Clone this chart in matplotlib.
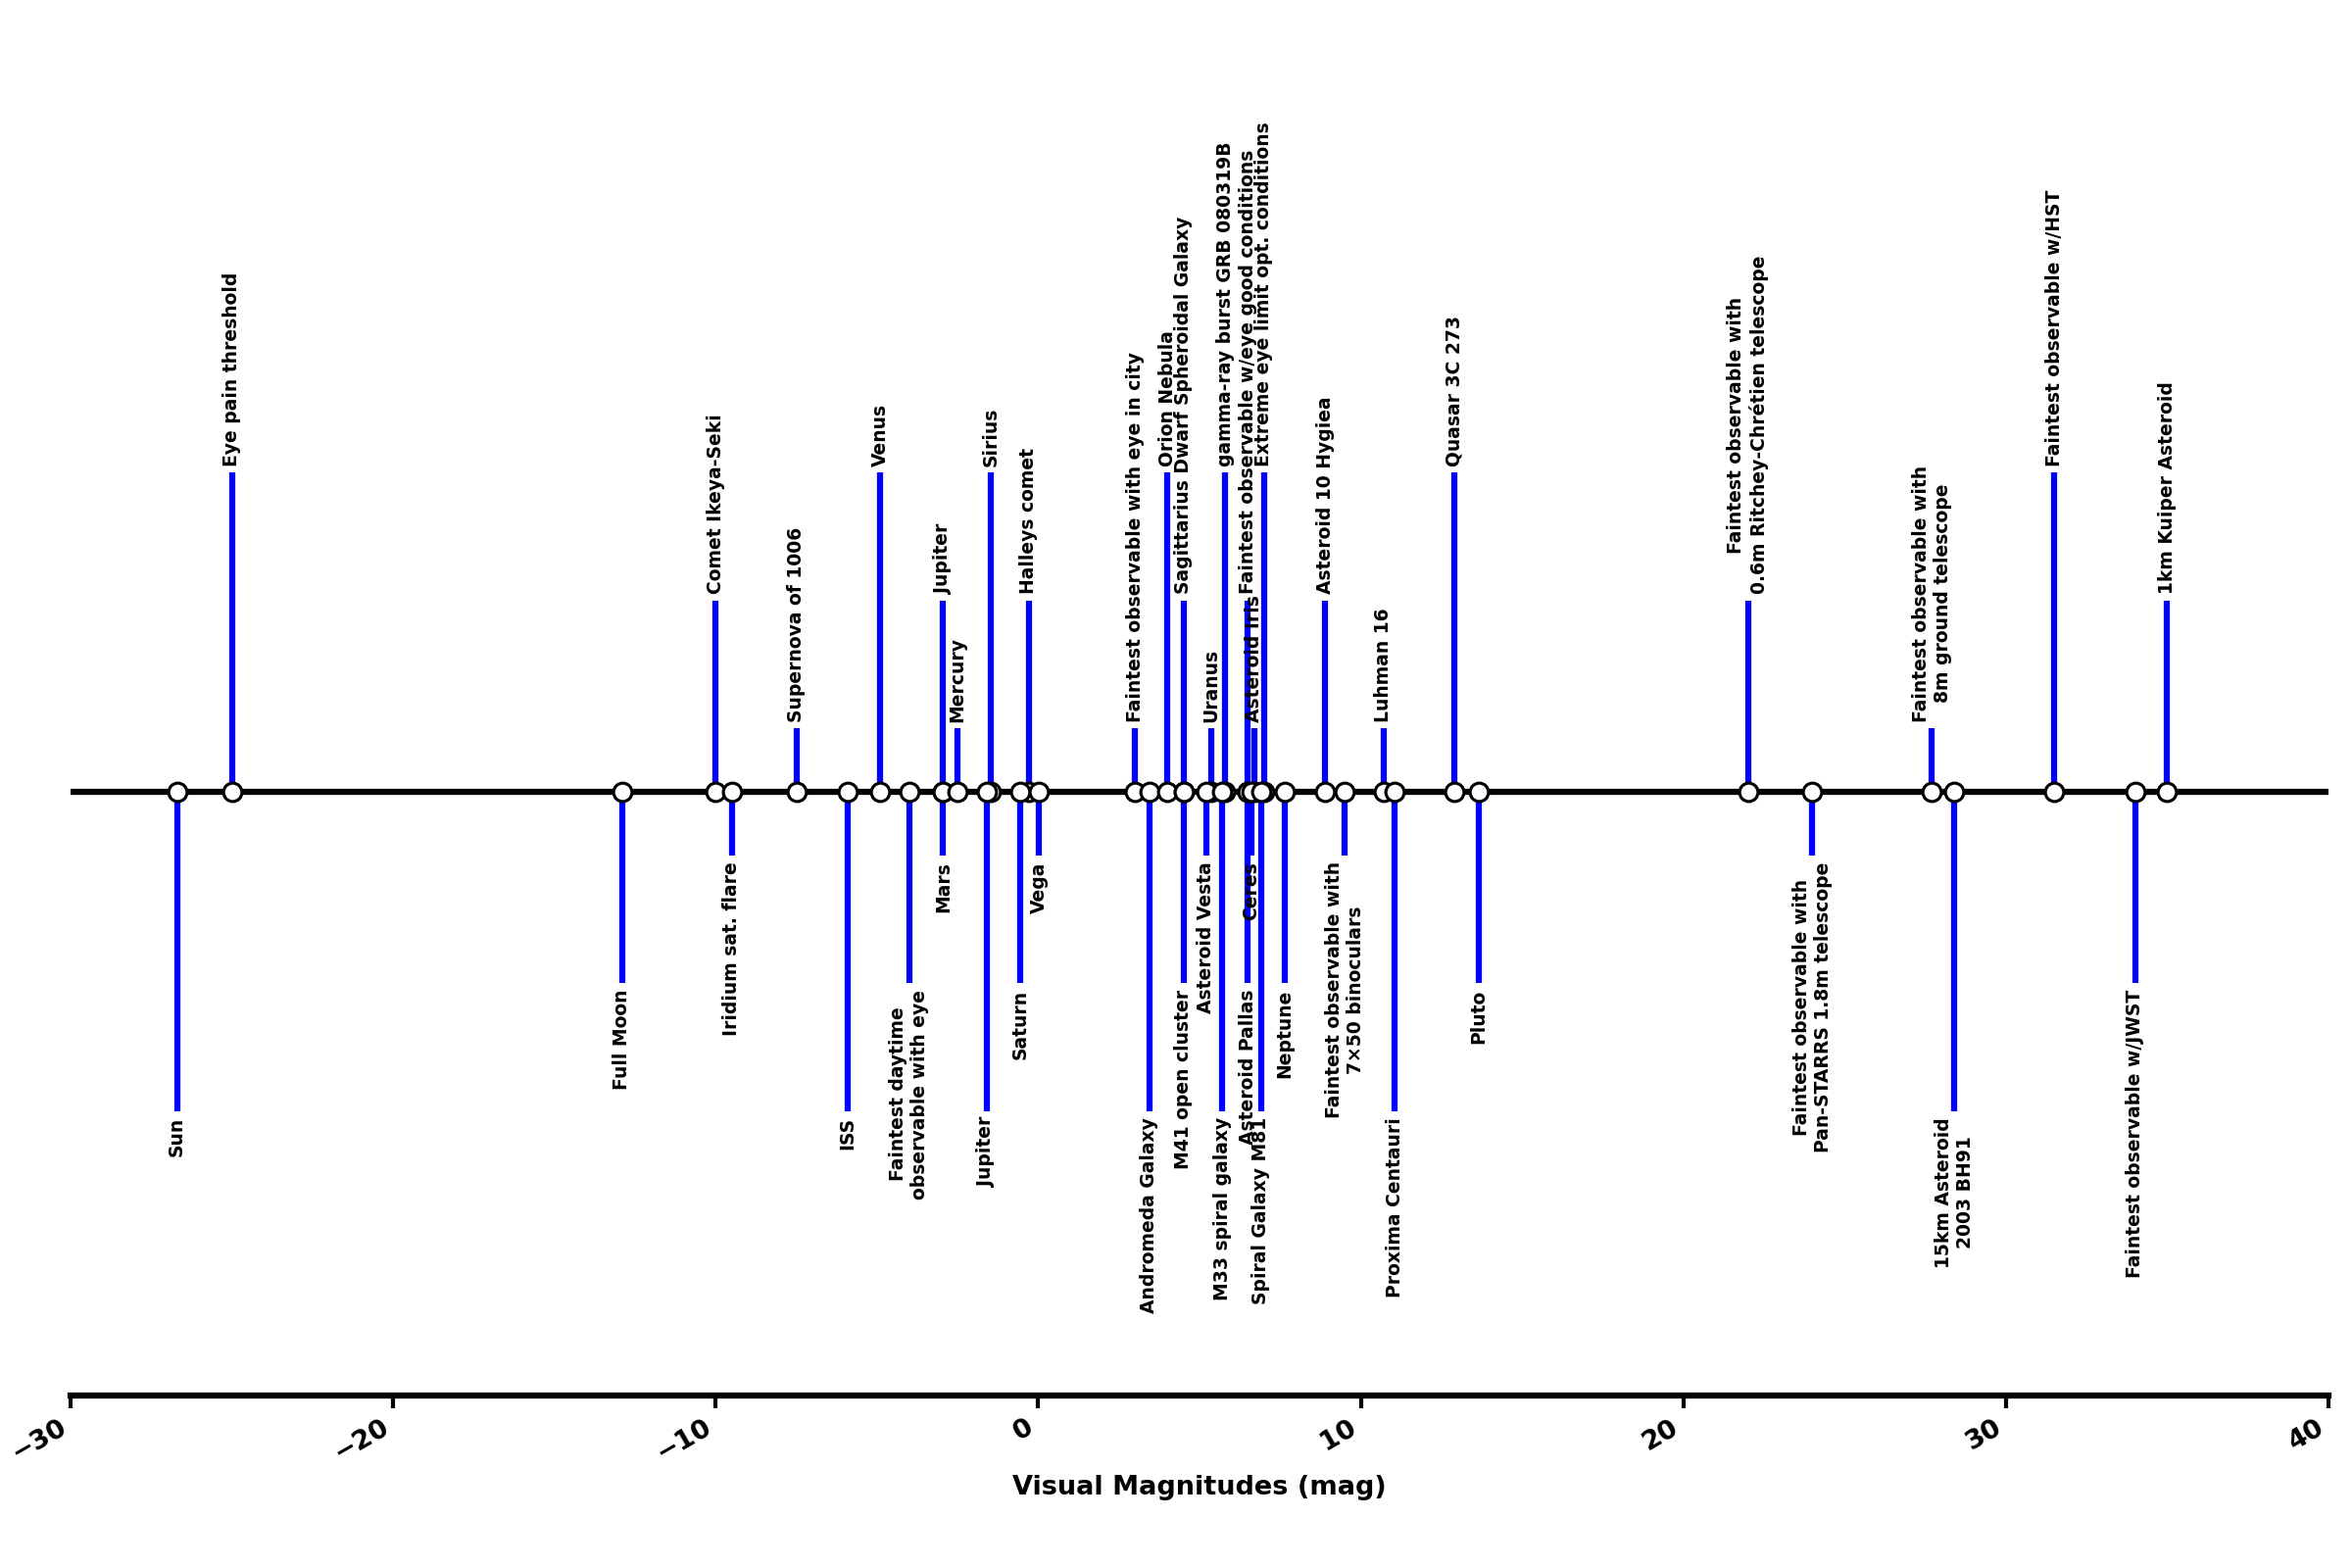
import matplotlib.pyplot as plt

names = ["Sun", "Eye pain threshold", "Full Moon", "Comet Ikeya-Seki", "Iridium sat. flare",
         "Supernova of 1006", "ISS", "Venus", "Faintest daytime\nobservable with eye", "Jupiter",
         "Mars", "Mercury", "Sirius", "Jupiter", "Halleys comet", "Saturn", "Vega",
         "Faintest observable with eye in city", "Andromeda Galaxy", "Orion Nebula",
         "Sagittarius Dwarf Spheroidal Galaxy", "M41 open cluster", "Uranus", "Asteroid Vesta",
         "gamma-ray burst GRB 080319B", "M33 spiral galaxy", "Faintest observable w/eye good conditions",
         "Asteroid Pallas", "Asteroid Iris", "Ceres", "Extreme eye limit opt. conditions",
         "Spiral Galaxy M81", "Neptune", "Asteroid 10 Hygiea",
         "Faintest observable with\n7×50 binoculars", "Luhman 16", "Proxima Centauri",
         "Quasar 3C 273", "Pluto", "Faintest observable with\n0.6m Ritchey-Chrétien telescope",
         "Faintest observable with\nPan-STARRS 1.8m telescope",
         "Faintest observable with\n8m ground telescope", "15km Asteroid\n2003 BH91",
         "Faintest observable w/HST", "Faintest observable w/JWST", "1km Kuiper Asteroid"]
magnitudes = [-26.7, -25, -12.9, -10, -9.5, -7.5, -5.9, -4.9, -4, -2.95, -2.95, -2.5, -1.46, -1.6,
              -0.3, -0.55, 0.03, 3, 3.44, 4, 4.5, 4.5, 5.35, 5.2, 5.8, 5.7, 6.5, 6.5, 6.7, 6.6, 7,
              6.9, 7.65, 8.9, 9.5, 10.7, 11.05, 12.9, 13.65, 22, 24, 27.7, 28.4, 31.5, 34, 35]
levels = [-5, 5, -3, 3, -1, 1, -5, 5, -3, 3, -1, 1, 5, -5, 3, -3, -1, 1, -5, 5, 3, -3, 1, -1,
          5, -5, 3, -3, 1, -1, 5, -5, -3, 3, -1, 1, -5, 5, -3, 3, -1, 1, -5, 5, -3, 3]

fig = plt.figure(figsize=(16, 32 / 3), dpi=150)
ax = fig.add_axes([0.03, 0.11, 0.96, 0.77])

ax.vlines(magnitudes, 0, levels, color="blue", lw=3)
ax.axhline(0, color="black", lw=3, zorder=2)
ax.plot(magnitudes, [0] * len(magnitudes), "o", ms=9, mfc="white", mec="black", mew=1.5, zorder=3)

for m, lv, nm in zip(magnitudes, levels, names):
    ax.annotate(nm, (m, lv), xytext=(0, 3 if lv > 0 else -3), textcoords="offset points",
                rotation=90, ha="center", va="bottom" if lv > 0 else "top",
                fontsize=9, fontweight="bold", multialignment="center", annotation_clip=False)

ax.set_xlim(-30, 40)
ax.set_ylim(-9.46, 9.46)
ax.yaxis.set_visible(False)
for s in ["left", "right", "top"]:
    ax.spines[s].set_visible(False)
ax.spines["bottom"].set_linewidth(3)
ax.tick_params(axis="x", width=2, length=6, labelsize=13)
plt.setp(ax.get_xticklabels(), rotation=30, ha="right", fontweight="bold")
ax.set_xlabel("Visual Magnitudes (mag)", fontsize=13, fontweight="bold")

fig.savefig("out.png")
